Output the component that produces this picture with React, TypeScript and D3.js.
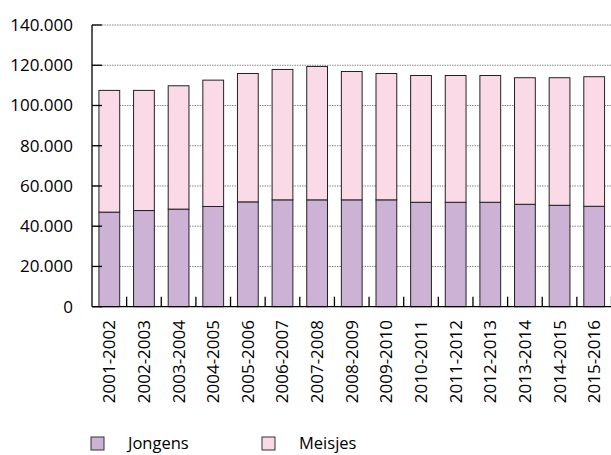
import React from "react";
import * as d3 from "d3";

const categories = [
  "2001-2002", "2002-2003", "2003-2004", "2004-2005", "2005-2006",
  "2006-2007", "2007-2008", "2008-2009", "2009-2010", "2010-2011",
  "2011-2012", "2012-2013", "2013-2014", "2014-2015", "2015-2016",
];
const jongens = [47000, 47800, 48500, 49800, 52100, 53100, 53100, 53100, 53100, 51900, 51900, 51900, 50900, 50400, 49900];
const meisjes = [60500, 59700, 61300, 62800, 63800, 64800, 66300, 63800, 62800, 63000, 63000, 63000, 62900, 63400, 64400];
const seriesNames = ["Jongens", "Meisjes"];
const yTicks = [0, 20000, 40000, 60000, 80000, 100000, 120000, 140000];

const colors = ["#CCB2D4", "#F9DAE6"];
const FONT = "'Open Sans', sans-serif";

export default function App() {
  const W = 611, H = 455;
  const left = 92, right = 611.5, top = 25, bottom = 306.7;

  const x = d3.scaleBand<string>().domain(categories).range([left, right]).paddingInner(0.4).paddingOuter(0.2);
  const y = d3.scaleLinear().domain([0, 140000]).range([bottom, top]);
  const step = x.step();

  const rows = categories.map((c, i) => ({ cat: c, Jongens: jongens[i], Meisjes: meisjes[i] }));
  const stacked = d3.stack<any>().keys(seriesNames)(rows);

  const fmt = (v: number) => (v === 0 ? "0" : d3.format(",")(v).replace(/,/g, "."));

  const boundaries = categories.map((_, i) => left + step * (i + 1));

  return (
    <svg width={W} height={H} style={{ position: "absolute", left: 0, top: 0 }} fontFamily={FONT}>
      <rect x={0} y={0} width={W} height={H} fill="#fff" />
      {/* gridlines */}
      {yTicks.filter((t) => t > 0).map((t) => (
        <line key={"g" + t} x1={left} x2={W} y1={y(t)} y2={y(t)} stroke="#888" strokeWidth={1} strokeDasharray="1.5,1" />
      ))}
      {/* bars */}
      {stacked.map((s, si) => (
        <g key={s.key}>
          {s.map((d, i) => (
            <rect
              key={i}
              x={x(categories[i])!}
              width={x.bandwidth()}
              y={y(d[1])}
              height={y(d[0]) - y(d[1])}
              fill={colors[si]}
              stroke="#222"
              strokeWidth={1}
            />
          ))}
        </g>
      ))}
      {/* axes */}
      <line x1={left} x2={left} y1={top} y2={bottom} stroke="#000" strokeWidth={1.3} />
      <line x1={left} x2={W} y1={bottom} y2={bottom} stroke="#000" strokeWidth={1.3} />
      {yTicks.map((t) => (
        <g key={"t" + t}>
          <line x1={left} x2={left + 10} y1={y(t)} y2={y(t)} stroke="#000" strokeWidth={1.3} />
          <text x={73} y={y(t)} dy="0.35em" textAnchor="end" fontSize={17} fill="#000">
            {fmt(t)}
          </text>
        </g>
      ))}
      {boundaries.map((bx, i) => (
        <line key={"b" + i} x1={bx} x2={bx} y1={bottom} y2={bottom - 10} stroke="#000" strokeWidth={1.3} />
      ))}
      {categories.map((c) => {
        const cx = x(c)! + x.bandwidth() / 2;
        return (
          <text
            key={c}
            transform={`translate(${cx},${320}) rotate(-90)`}
            textAnchor="end"
            dy="0.35em"
            fontSize={17}
            fill="#000"
          >
            {c}
          </text>
        );
      })}
      {/* legend */}
      {seriesNames.map((n, i) => {
        const lx = 91 + i * 171;
        return (
          <g key={n}>
            <rect x={lx} y={437} width={13} height={13} fill={colors[i]} stroke="#333" strokeWidth={1} />
            <text x={lx + 37} y={449} fontSize={16.5} fill="#000">{n}</text>
          </g>
        );
      })}
    </svg>
  );
}
